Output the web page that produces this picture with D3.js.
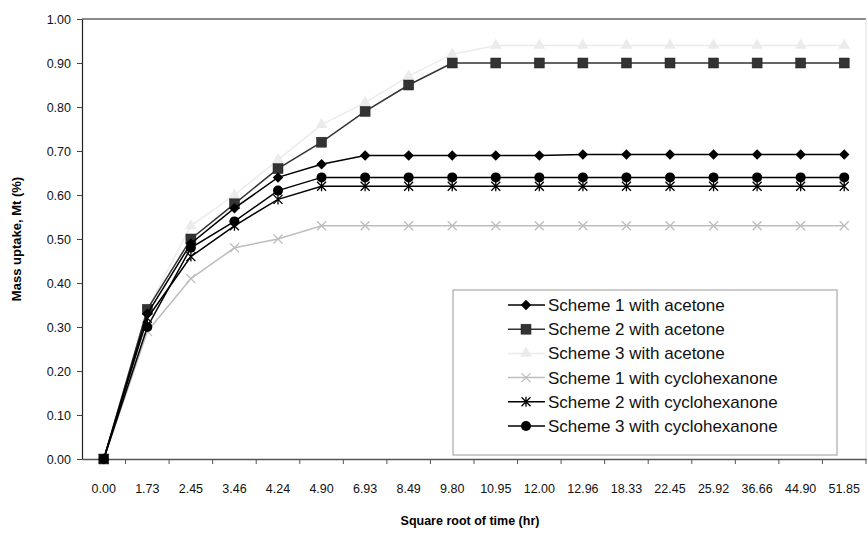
<!DOCTYPE html>
<html>
<head>
<meta charset="utf-8">
<script src="https://cdn.jsdelivr.net/npm/d3@7"></script>
<style>
  body { margin: 0; background: #fff; }
  svg { font-family: "Liberation Sans", Arial, sans-serif; }
</style>
</head>
<body>
<div id="chart"></div>
<script>
// x categories (square root of time, hr)
const timeLabels = ['0.00', '1.73', '2.45', '3.46', '4.24', '4.90', '6.93', '8.49', '9.80',
    '10.95', '12.00', '12.96', '18.33', '22.45', '25.92', '36.66', '44.90', '51.85'];

// series values
const scheme1Acetone = [0, 0.33, 0.49, 0.57, 0.64, 0.67, 0.69, 0.69, 0.69, 0.69, 0.69, 0.692, 0.692, 0.692, 0.692, 0.692, 0.692, 0.692];
const scheme2Acetone = [0, 0.34, 0.50, 0.58, 0.66, 0.72, 0.79, 0.85, 0.90, 0.90, 0.90, 0.90, 0.90, 0.90, 0.90, 0.90, 0.90, 0.90];
const scheme3Acetone = [0, 0.34, 0.53, 0.60, 0.68, 0.76, 0.81, 0.87, 0.92, 0.94, 0.94, 0.94, 0.94, 0.94, 0.94, 0.94, 0.94, 0.94];
const scheme1Cyclo = [0, 0.29, 0.41, 0.48, 0.50, 0.53, 0.53, 0.53, 0.53, 0.53, 0.53, 0.53, 0.53, 0.53, 0.53, 0.53, 0.53, 0.53];
const scheme2Cyclo = [0, 0.32, 0.46, 0.53, 0.59, 0.62, 0.62, 0.62, 0.62, 0.62, 0.62, 0.62, 0.62, 0.62, 0.62, 0.62, 0.62, 0.62];
const scheme3Cyclo = [0, 0.30, 0.48, 0.54, 0.61, 0.64, 0.64, 0.64, 0.64, 0.64, 0.64, 0.64, 0.64, 0.64, 0.64, 0.64, 0.64, 0.64];

const seriesNames = ['Scheme 1 with acetone', 'Scheme 2 with acetone', 'Scheme 3 with acetone',
    'Scheme 1 with cyclohexanone', 'Scheme 2 with cyclohexanone', 'Scheme 3 with cyclohexanone'];

const yTicks = [0, 0.1, 0.2, 0.3, 0.4, 0.5, 0.6, 0.7, 0.8, 0.9, 1.0];

// Container dimensions
const width = 868;
const height = 559;
const margins = { top: 19, right: 2, bottom: 100, left: 82 };
const innerWidth = width - margins.left - margins.right;
const innerHeight = height - margins.top - margins.bottom;
const fontFamily = '"Liberation Sans", Arial, sans-serif';

// marker styles per series
const styles = [
    { values: scheme1Acetone, color: '#000', stroke: '#000', marker: 'diamond' },
    { values: scheme2Acetone, color: '#333', stroke: '#333', marker: 'square' },
    { values: scheme3Acetone, color: '#ebebeb', stroke: '#ebebeb', marker: 'triangle' },
    { values: scheme1Cyclo, color: '#bdbdbd', stroke: '#bdbdbd', marker: 'cross' },
    { values: scheme2Cyclo, color: '#000', stroke: '#000', marker: 'star' },
    { values: scheme3Cyclo, color: '#000', stroke: '#000', marker: 'circle' },
];
const series = styles.map((s, i) => ({ ...s, name: seriesNames[i] }));

const svg = d3.select('#chart')
    .append('svg')
    .attr('width', width)
    .attr('height', height);

const g = svg.append('g')
    .attr('transform', `translate(${margins.left},${margins.top})`);

const x = d3.scaleBand()
    .domain(timeLabels)
    .range([0, innerWidth])
    .padding(0);

const y = d3.scaleLinear()
    .domain([0, 1])
    .range([innerHeight, 0]);

// plot frame (top and right)
g.append('line')
    .attr('x1', 0).attr('x2', innerWidth)
    .attr('y1', 0).attr('y2', 0)
    .attr('stroke', '#666').attr('stroke-width', 1.5);
g.append('line')
    .attr('x1', innerWidth).attr('x2', innerWidth)
    .attr('y1', 0).attr('y2', innerHeight)
    .attr('stroke', '#ddd').attr('stroke-width', 1);

// y axis
const yAxis = g.append('g')
    .call(d3.axisLeft(y).tickValues(yTicks).tickFormat(d3.format('.2f')).tickSize(5).tickSizeOuter(0).tickPadding(6))
    .attr('font-family', fontFamily)
    .attr('font-size', 12.5);
yAxis.select('.domain').attr('stroke', '#222').attr('stroke-width', 1.2);
yAxis.selectAll('.tick line').attr('stroke', '#444');
yAxis.selectAll('text').attr('fill', '#111');

// x axis: labels at band centres, ticks at band edges
const xAxis = g.append('g')
    .attr('transform', `translate(0,${innerHeight})`)
    .call(d3.axisBottom(x).tickSize(0).tickSizeOuter(0).tickPadding(25))
    .attr('font-family', fontFamily)
    .attr('font-size', 12.5);
xAxis.select('.domain').attr('stroke', '#555').attr('stroke-width', 1.5);
xAxis.selectAll('text').attr('fill', '#111');

xAxis.selectAll('.edge-tick')
    .data(timeLabels.slice(1).concat(['end']))
    .join('line')
    .attr('class', 'edge-tick')
    .attr('x1', (d, i) => x.step() * (i + 1))
    .attr('x2', (d, i) => x.step() * (i + 1))
    .attr('y1', 0).attr('y2', 5)
    .attr('stroke', '#555');

// axis titles
svg.append('text')
    .attr('x', margins.left + innerWidth / 2 - 4)
    .attr('y', 525)
    .attr('text-anchor', 'middle')
    .attr('font-size', 12.5)
    .attr('font-weight', 'bold')
    .text('Square root of time (hr)');

svg.append('text')
    .attr('transform', `translate(21,${margins.top + innerHeight / 2}) rotate(-90)`)
    .attr('text-anchor', 'middle')
    .attr('font-size', 13)
    .attr('font-weight', 'bold')
    .text('Mass uptake, Mt (%)');

// marker drawing
function drawMarker(sel, type, color) {
    if (type === 'diamond') {
        sel.append('path').attr('d', d3.symbol(d3.symbolDiamond2, 70)()).attr('fill', color);
    } else if (type === 'square') {
        sel.append('rect').attr('x', -5).attr('y', -5).attr('width', 10).attr('height', 10)
            .attr('fill', color).attr('stroke', '#222').attr('stroke-width', 0.5);
    } else if (type === 'triangle') {
        sel.append('path').attr('d', d3.symbol(d3.symbolTriangle, 60)()).attr('fill', color);
    } else if (type === 'cross') {
        sel.append('path').attr('d', 'M-4.5,-4.5L4.5,4.5M-4.5,4.5L4.5,-4.5')
            .attr('stroke', color).attr('stroke-width', 1.3).attr('fill', 'none');
    } else if (type === 'star') {
        sel.append('path').attr('d', 'M-4.5,-4.5L4.5,4.5M-4.5,4.5L4.5,-4.5M0,-5L0,5')
            .attr('stroke', color).attr('stroke-width', 1.3).attr('fill', 'none');
    } else if (type === 'circle') {
        sel.append('circle').attr('r', 5).attr('fill', color);
    }
}

const line = d3.line()
    .x((d, i) => x(timeLabels[i]) + x.bandwidth() / 2)
    .y(d => y(d));

// draw in reverse so series 1 sits on top
const drawOrder = [2, 3, 1, 4, 5, 0];
drawOrder.forEach(si => {
    const s = series[si];
    const sg = g.append('g').attr('class', 'series');
    sg.append('path')
        .datum(s.values)
        .attr('d', line)
        .attr('fill', 'none')
        .attr('stroke', s.stroke)
        .attr('stroke-width', 1.5);
    sg.selectAll('g.pt')
        .data(s.values)
        .join('g')
        .attr('class', 'pt')
        .attr('transform', (d, i) => `translate(${x(timeLabels[i]) + x.bandwidth() / 2},${y(d)})`)
        .each(function () { drawMarker(d3.select(this), s.marker, s.color); });
});

// legend
const legend = svg.append('g')
    .attr('transform', 'translate(453,290)');
legend.append('rect')
    .attr('width', 384).attr('height', 165)
    .attr('fill', '#fff')
    .attr('stroke', '#999').attr('stroke-width', 1);

series.forEach((s, i) => {
    const row = legend.append('g')
        .attr('transform', `translate(0,${15 + i * 24.2})`);
    row.append('line')
        .attr('x1', 55).attr('x2', 92)
        .attr('stroke', s.stroke).attr('stroke-width', 1.5);
    const m = row.append('g').attr('transform', 'translate(73,0)');
    drawMarker(m, s.marker, s.color);
    row.append('text')
        .attr('x', 95).attr('dy', '0.35em')
        .attr('font-size', 17)
        .attr('fill', '#111')
        .text(s.name);
});
</script>
</body>
</html>
